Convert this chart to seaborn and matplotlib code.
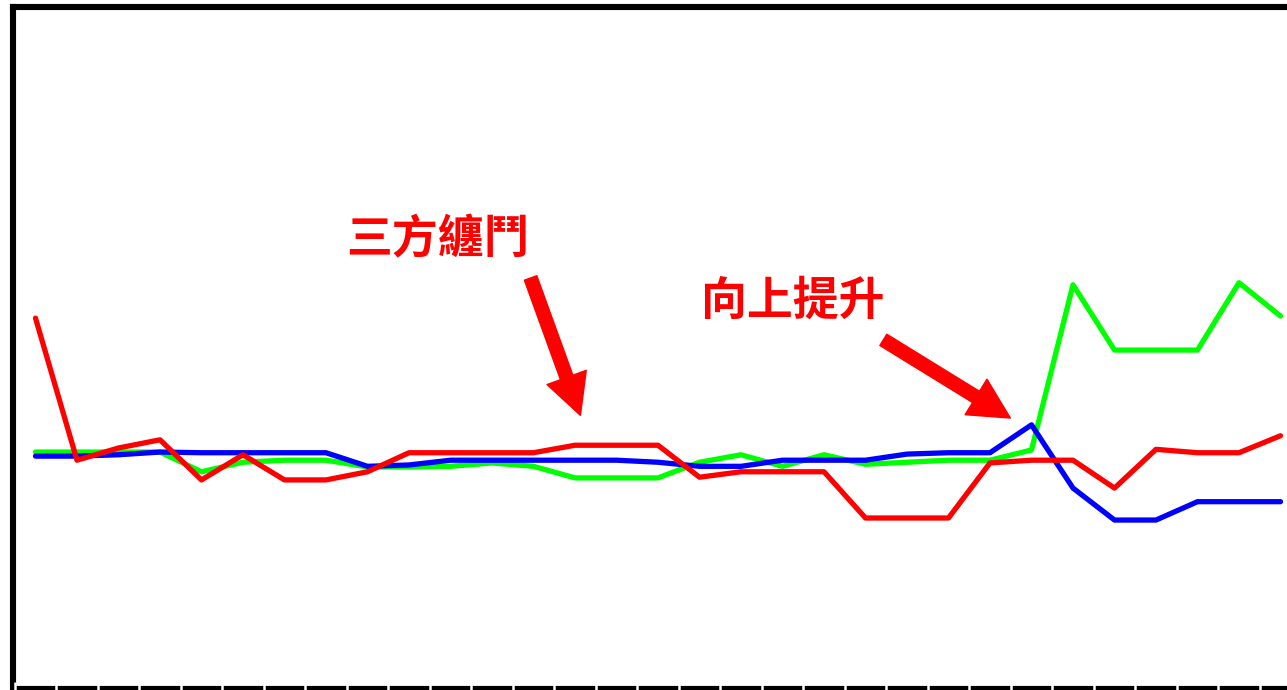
import seaborn as sns
import matplotlib.pyplot as plt
import pandas as pd
import numpy as np
from matplotlib.patches import FancyArrowPatch

sns.set_style("white")
plt.rcParams["font.family"] = ["Noto Sans CJK TC", "DejaVu Sans"]

# values (arbitrary 0-100 scale, no axis labels shown)
periods = list(range(31))
red_vals = [54.4, 33.5, 35.3, 36.5, 30.6, 34.3, 30.6, 30.6, 31.8, 34.6, 34.6,
            34.6, 34.6, 35.7, 35.7, 35.7, 31.0, 31.8, 31.8, 31.8, 25.0, 25.0,
            25.0, 33.1, 33.5, 33.5, 29.4, 35.1, 34.6, 34.6, 37.1]
blue_vals = [34.1, 34.1, 34.3, 34.7, 34.6, 34.6, 34.6, 34.6, 32.6, 32.8, 33.5,
             33.5, 33.5, 33.5, 33.5, 33.2, 32.6, 32.6, 33.5, 33.5, 33.5, 34.4,
             34.6, 34.6, 38.7, 29.4, 24.7, 24.7, 27.4, 27.4, 27.4]
green_vals = [34.7, 34.7, 34.7, 34.7, 31.8, 33.2, 33.5, 33.5, 32.5, 32.5, 32.6,
              33.1, 32.6, 30.9, 30.9, 30.9, 33.2, 34.3, 32.6, 34.3, 32.9, 33.2,
              33.5, 33.5, 35.0, 59.3, 49.7, 49.7, 49.7, 59.6, 54.7]

series_names = ["green", "blue", "red"]
colors = {"green": "#00ff00", "blue": "#0000ff", "red": "#ff0000"}

df = pd.concat([
    pd.DataFrame({"period": periods, "value": green_vals, "series": "green"}),
    pd.DataFrame({"period": periods, "value": blue_vals, "series": "blue"}),
    pd.DataFrame({"period": periods, "value": red_vals, "series": "red"}),
])

fig = plt.figure(figsize=(12.87, 6.90), dpi=100)
ax = fig.add_axes([12.5 / 1287, 2 / 690, 1 - 12.5 / 1287, 681 / 690])

sns.lineplot(data=df, x="period", y="value", hue="series",
             hue_order=series_names, palette=colors, linewidth=3.8,
             legend=False, sort=False, ax=ax)

ax.set_xlabel("")
ax.set_ylabel("")
ax.set_yticks([])

# frame: thick left/top, bottom split into segments by white ticks
for side in ["left", "top", "bottom"]:
    ax.spines[side].set_color("black")
ax.spines["left"].set_linewidth(4.4)
ax.spines["top"].set_linewidth(4.4)
ax.spines["bottom"].set_linewidth(3.0)
ax.spines["right"].set_visible(False)
ax.set_xticks(np.arange(-0.5, 31, 1))
ax.set_xticklabels([])
ax.tick_params(axis="x", bottom=True, colors="white", length=8, width=1.8,
               direction="inout")
ax.xaxis.set_zorder(3)

# limits after ticks so the ticks do not widen the view
ax.set_xlim(-23 / 41.5, 1251.5 / 41.5)
ax.set_ylim(0, 100.15)

# annotations
ax.text(9.69, 65.9, "三方纏鬥", color="red", fontsize=33, fontweight="bold",
        ha="center", va="center")
ax.text(18.24, 56.8, "向上提升", color="red", fontsize=33, fontweight="bold",
        ha="center", va="center")

arrow_style = "simple,head_length=29,head_width=30,tail_width=9.5"
for tail, tip in [((11.93, 60.3), (13.13, 40.1)), ((20.43, 51.2), (23.49, 39.7))]:
    ax.add_patch(FancyArrowPatch(tail, tip, arrowstyle=arrow_style,
                                 mutation_scale=1, color="red",
                                 shrinkA=0, shrinkB=0, zorder=5))

fig.savefig("out.png", dpi=100)
plt.close(fig)
